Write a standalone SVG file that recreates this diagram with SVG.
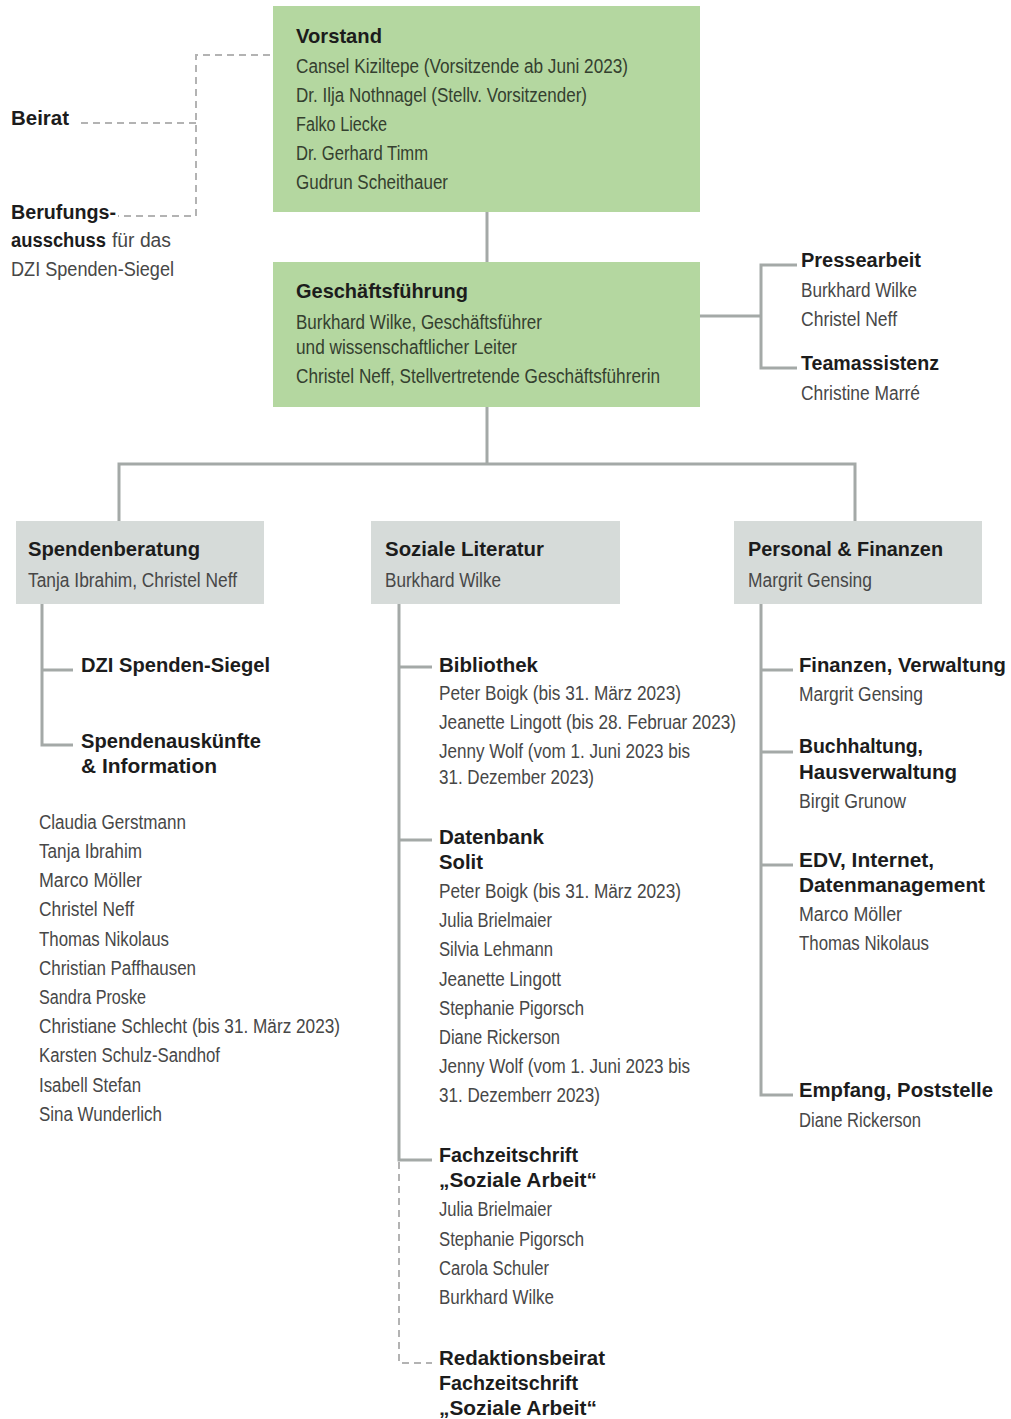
<svg xmlns="http://www.w3.org/2000/svg" width="1011" height="1419" viewBox="0 0 1011 1419">
<style>
text{font-family:"Liberation Sans",Arial,sans-serif;font-size:20px;fill:#474747}
.b{font-weight:bold;fill:#1c1c1c}
.gt{fill:#34402f}
.bt{font-size:21px}
.green{fill:#b4d7a0}
.grey{fill:#d6dbd9}
.ln{stroke:#a4a9a7;stroke-width:3;fill:none}
.dl{stroke:#b3b3b3;stroke-width:2;fill:none;stroke-dasharray:7 5}
</style>
<rect width="1011" height="1419" fill="#ffffff"/>
<g id="connectors">
<path class="ln" d="M487 212V262"/>
<path class="ln" d="M700 316H761M797 265H761V368H797"/>
<path class="ln" d="M487 407V464M119 521V464H855V521"/>
<path class="ln" d="M42 604V745H73M42 670H73"/>
<path class="ln" d="M399 604V1160H432M399 667H432M399 840H432"/>
<path class="dl" d="M399 1162V1363H432"/>
<path class="ln" d="M761 604V1095H793M761 670H793M761 752H793M761 865H793"/>
<path class="dl" d="M270 55H196V216H118M196 123H76"/>
</g>
<g id="vorstand">
<rect class="green" x="273" y="6" width="427" height="206"/>
<text class="b bt" x="296" y="43" textLength="86" lengthAdjust="spacingAndGlyphs">Vorstand</text>
<text class="gt" x="296" y="73" textLength="332" lengthAdjust="spacingAndGlyphs">Cansel Kiziltepe (Vorsitzende ab Juni 2023)</text>
<text class="gt" x="296" y="102" textLength="291" lengthAdjust="spacingAndGlyphs">Dr. Ilja Nothnagel (Stellv. Vorsitzender)</text>
<text class="gt" x="296" y="131" textLength="91" lengthAdjust="spacingAndGlyphs">Falko Liecke</text>
<text class="gt" x="296" y="160" textLength="132" lengthAdjust="spacingAndGlyphs">Dr. Gerhard Timm</text>
<text class="gt" x="296" y="189" textLength="152" lengthAdjust="spacingAndGlyphs">Gudrun Scheithauer</text>
</g>
<g id="beirat">
<text class="b" x="11" y="125" textLength="58" lengthAdjust="spacingAndGlyphs">Beirat</text>
</g>
<g id="berufungsausschuss">
<text class="b" x="11" y="219" textLength="105" lengthAdjust="spacingAndGlyphs">Berufungs-</text>
<text class="b" x="11" y="247" textLength="95" lengthAdjust="spacingAndGlyphs">ausschuss</text>
<text x="112" y="247" textLength="59" lengthAdjust="spacingAndGlyphs">für das</text>
<text x="11" y="276" textLength="163" lengthAdjust="spacingAndGlyphs">DZI Spenden-Siegel</text>
</g>
<g id="geschaeftsfuehrung">
<rect class="green" x="273" y="262" width="427" height="145"/>
<text class="b bt" x="296" y="298" textLength="172" lengthAdjust="spacingAndGlyphs">Geschäftsführung</text>
<text class="gt" x="296" y="329" textLength="246" lengthAdjust="spacingAndGlyphs">Burkhard Wilke, Geschäftsführer</text>
<text class="gt" x="296" y="354" textLength="221" lengthAdjust="spacingAndGlyphs">und wissenschaftlicher Leiter</text>
<text class="gt" x="296" y="383" textLength="364" lengthAdjust="spacingAndGlyphs">Christel Neff, Stellvertretende Geschäftsführerin</text>
</g>
<g id="pressearbeit">
<text class="b" x="801" y="267" textLength="120" lengthAdjust="spacingAndGlyphs">Pressearbeit</text>
<text x="801" y="297" textLength="116" lengthAdjust="spacingAndGlyphs">Burkhard Wilke</text>
<text x="801" y="326" textLength="96" lengthAdjust="spacingAndGlyphs">Christel Neff</text>
</g>
<g id="teamassistenz">
<text class="b" x="801" y="370" textLength="138" lengthAdjust="spacingAndGlyphs">Teamassistenz</text>
<text x="801" y="400" textLength="119" lengthAdjust="spacingAndGlyphs">Christine Marré</text>
</g>
<g id="spendenberatung">
<rect class="grey" x="16" y="521" width="248" height="83"/>
<text class="b bt" x="28" y="556" textLength="172" lengthAdjust="spacingAndGlyphs">Spendenberatung</text>
<text x="28" y="587" textLength="209" lengthAdjust="spacingAndGlyphs">Tanja Ibrahim, Christel Neff</text>
</g>
<g id="soziale-literatur">
<rect class="grey" x="371" y="521" width="249" height="83"/>
<text class="b bt" x="385" y="556" textLength="159" lengthAdjust="spacingAndGlyphs">Soziale Literatur</text>
<text x="385" y="587" textLength="116" lengthAdjust="spacingAndGlyphs">Burkhard Wilke</text>
</g>
<g id="personal-finanzen">
<rect class="grey" x="734" y="521" width="248" height="83"/>
<text class="b bt" x="748" y="556" textLength="195" lengthAdjust="spacingAndGlyphs">Personal &amp; Finanzen</text>
<text x="748" y="587" textLength="124" lengthAdjust="spacingAndGlyphs">Margrit Gensing</text>
</g>
<g id="dzi-spenden-siegel">
<text class="b" x="81" y="672" textLength="189" lengthAdjust="spacingAndGlyphs">DZI Spenden-Siegel</text>
</g>
<g id="spendenauskuenfte">
<text class="b" x="81" y="748" textLength="180" lengthAdjust="spacingAndGlyphs">Spendenauskünfte</text>
<text class="b" x="81" y="773" textLength="136" lengthAdjust="spacingAndGlyphs">&amp; Information</text>
<text x="39" y="829" textLength="147" lengthAdjust="spacingAndGlyphs">Claudia Gerstmann</text>
<text x="39" y="858" textLength="103" lengthAdjust="spacingAndGlyphs">Tanja Ibrahim</text>
<text x="39" y="887" textLength="103" lengthAdjust="spacingAndGlyphs">Marco Möller</text>
<text x="39" y="916" textLength="95" lengthAdjust="spacingAndGlyphs">Christel Neff</text>
<text x="39" y="946" textLength="130" lengthAdjust="spacingAndGlyphs">Thomas Nikolaus</text>
<text x="39" y="975" textLength="157" lengthAdjust="spacingAndGlyphs">Christian Paffhausen</text>
<text x="39" y="1004" textLength="107" lengthAdjust="spacingAndGlyphs">Sandra Proske</text>
<text x="39" y="1033" textLength="301" lengthAdjust="spacingAndGlyphs">Christiane Schlecht (bis 31. März 2023)</text>
<text x="39" y="1062" textLength="181" lengthAdjust="spacingAndGlyphs">Karsten Schulz-Sandhof</text>
<text x="39" y="1092" textLength="102" lengthAdjust="spacingAndGlyphs">Isabell Stefan</text>
<text x="39" y="1121" textLength="123" lengthAdjust="spacingAndGlyphs">Sina Wunderlich</text>
</g>
<g id="bibliothek">
<text class="b" x="439" y="672" textLength="99" lengthAdjust="spacingAndGlyphs">Bibliothek</text>
<text x="439" y="700" textLength="242" lengthAdjust="spacingAndGlyphs">Peter Boigk (bis 31. März 2023)</text>
<text x="439" y="729" textLength="297" lengthAdjust="spacingAndGlyphs">Jeanette Lingott (bis 28. Februar 2023)</text>
<text x="439" y="758" textLength="251" lengthAdjust="spacingAndGlyphs">Jenny Wolf (vom 1. Juni 2023 bis</text>
<text x="439" y="784" textLength="155" lengthAdjust="spacingAndGlyphs">31. Dezember 2023)</text>
</g>
<g id="datenbank-solit">
<text class="b" x="439" y="844" textLength="105" lengthAdjust="spacingAndGlyphs">Datenbank</text>
<text class="b" x="439" y="869" textLength="44" lengthAdjust="spacingAndGlyphs">Solit</text>
<text x="439" y="898" textLength="242" lengthAdjust="spacingAndGlyphs">Peter Boigk (bis 31. März 2023)</text>
<text x="439" y="927" textLength="113" lengthAdjust="spacingAndGlyphs">Julia Brielmaier</text>
<text x="439" y="956" textLength="114" lengthAdjust="spacingAndGlyphs">Silvia Lehmann</text>
<text x="439" y="986" textLength="122" lengthAdjust="spacingAndGlyphs">Jeanette Lingott</text>
<text x="439" y="1015" textLength="145" lengthAdjust="spacingAndGlyphs">Stephanie Pigorsch</text>
<text x="439" y="1044" textLength="121" lengthAdjust="spacingAndGlyphs">Diane Rickerson</text>
<text x="439" y="1073" textLength="251" lengthAdjust="spacingAndGlyphs">Jenny Wolf (vom 1. Juni 2023 bis</text>
<text x="439" y="1102" textLength="161" lengthAdjust="spacingAndGlyphs">31. Dezemberr 2023)</text>
</g>
<g id="fachzeitschrift">
<text class="b" x="439" y="1162" textLength="139" lengthAdjust="spacingAndGlyphs">Fachzeitschrift</text>
<text class="b" x="439" y="1187" textLength="158" lengthAdjust="spacingAndGlyphs">„Soziale Arbeit“</text>
<text x="439" y="1216" textLength="113" lengthAdjust="spacingAndGlyphs">Julia Brielmaier</text>
<text x="439" y="1246" textLength="145" lengthAdjust="spacingAndGlyphs">Stephanie Pigorsch</text>
<text x="439" y="1275" textLength="110" lengthAdjust="spacingAndGlyphs">Carola Schuler</text>
<text x="439" y="1304" textLength="115" lengthAdjust="spacingAndGlyphs">Burkhard Wilke</text>
</g>
<g id="redaktionsbeirat">
<text class="b" x="439" y="1365" textLength="166" lengthAdjust="spacingAndGlyphs">Redaktionsbeirat</text>
<text class="b" x="439" y="1390" textLength="139" lengthAdjust="spacingAndGlyphs">Fachzeitschrift</text>
<text class="b" x="439" y="1415" textLength="158" lengthAdjust="spacingAndGlyphs">„Soziale Arbeit“</text>
</g>
<g id="finanzen-verwaltung">
<text class="b" x="799" y="672" textLength="207" lengthAdjust="spacingAndGlyphs">Finanzen, Verwaltung</text>
<text x="799" y="701" textLength="124" lengthAdjust="spacingAndGlyphs">Margrit Gensing</text>
</g>
<g id="buchhaltung">
<text class="b" x="799" y="753" textLength="124" lengthAdjust="spacingAndGlyphs">Buchhaltung,</text>
<text class="b" x="799" y="779" textLength="158" lengthAdjust="spacingAndGlyphs">Hausverwaltung</text>
<text x="799" y="808" textLength="107" lengthAdjust="spacingAndGlyphs">Birgit Grunow</text>
</g>
<g id="edv">
<text class="b" x="799" y="867" textLength="135" lengthAdjust="spacingAndGlyphs">EDV, Internet,</text>
<text class="b" x="799" y="892" textLength="186" lengthAdjust="spacingAndGlyphs">Datenmanagement</text>
<text x="799" y="921" textLength="103" lengthAdjust="spacingAndGlyphs">Marco Möller</text>
<text x="799" y="950" textLength="130" lengthAdjust="spacingAndGlyphs">Thomas Nikolaus</text>
</g>
<g id="empfang">
<text class="b" x="799" y="1097" textLength="194" lengthAdjust="spacingAndGlyphs">Empfang, Poststelle</text>
<text x="799" y="1127" textLength="122" lengthAdjust="spacingAndGlyphs">Diane Rickerson</text>
</g>
</svg>
